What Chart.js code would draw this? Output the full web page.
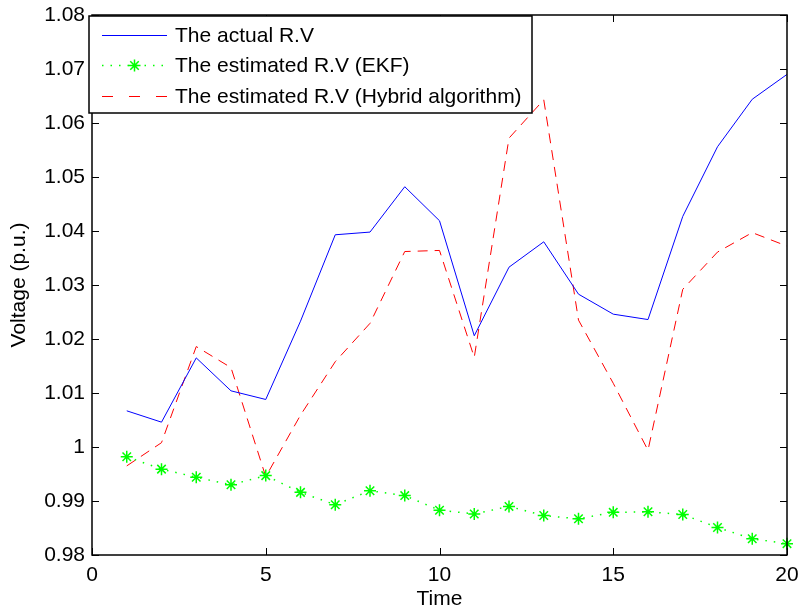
<!DOCTYPE html>
<html>
<head>
<meta charset="utf-8">
<script src="https://cdn.jsdelivr.net/npm/chart.js@4.4.1/dist/chart.umd.min.js"></script>
<style>
  html, body { margin: 0; padding: 0; background: #fff; }
  canvas { display: block; }
</style>
</head>
<body>
<canvas id="rvChart" width="801" height="612"></canvas>
<script>
// values
const time = [1, 2, 3, 4, 5, 6, 7, 8, 9, 10, 11, 12, 13, 14, 15, 16, 17, 18, 19, 20];
const actualRV = [1.0067, 1.0046, 1.0165, 1.0104, 1.0088, 1.0233, 1.0393, 1.0398, 1.0482, 1.0419,
                  1.0206, 1.0333, 1.0380, 1.0283, 1.0246, 1.0236, 1.0427, 1.0556, 1.0644, 1.0690];
const ekfRV = [0.9982, 0.9959, 0.9944, 0.9930, 0.9947, 0.9916, 0.9893, 0.9919, 0.9910, 0.9883,
               0.9876, 0.9890, 0.9873, 0.9867, 0.9879, 0.9880, 0.9875, 0.9851, 0.9830, 0.9821];
const hybridRV = [0.9965, 1.0008, 1.0186, 1.0147, 0.9945, 1.0059, 1.0158, 1.0229, 1.0362, 1.0364,
                  1.0166, 1.0572, 1.0643, 1.0235, 1.0118, 0.9994, 1.0292, 1.0361, 1.0397, 1.0372];
const seriesNames = ['The actual R.V', 'The estimated R.V (EKF)', 'The estimated R.V (Hybrid algorithm)'];
const xTicks = [0, 5, 10, 15, 20];
const yTicks = [0.98, 0.99, 1.00, 1.01, 1.02, 1.03, 1.04, 1.05, 1.06, 1.07, 1.08];

const FONT = '"Liberation Sans", Arial, Helvetica, sans-serif';
const toPoints = vals => vals.map((v, i) => ({ x: time[i], y: v }));

// matlab style box + inward ticks
const axesBox = {
    id: 'axesBox',
    afterDraw(chart) {
        const { ctx, chartArea: a, scales } = chart;
        const len = 7;
        ctx.save();
        ctx.strokeStyle = '#000';
        ctx.lineWidth = 1;
        ctx.beginPath();
        scales.x.ticks.forEach(t => {
            const px = Math.round(scales.x.getPixelForValue(t.value)) + 0.5;
            ctx.moveTo(px, a.bottom); ctx.lineTo(px, a.bottom - len);
            ctx.moveTo(px, a.top); ctx.lineTo(px, a.top + len);
        });
        scales.y.ticks.forEach(t => {
            const py = Math.round(scales.y.getPixelForValue(t.value)) + 0.5;
            ctx.moveTo(a.left, py); ctx.lineTo(a.left + len, py);
            ctx.moveTo(a.right, py); ctx.lineTo(a.right - len, py);
        });
        ctx.stroke();
        ctx.lineWidth = 1.5;
        ctx.strokeRect(Math.round(a.left), Math.round(a.top), Math.round(a.right - a.left), Math.round(a.bottom - a.top));
        ctx.restore();
    }
};

// legend box in the upper left corner of the axes
const boxLegend = {
    id: 'boxLegend',
    afterDraw(chart) {
        const { ctx, chartArea: a } = chart;
        const x0 = a.left - 3, y0 = a.top + 1, w = 443, h = 97;
        const rows = [35, 65, 96];
        ctx.save();
        ctx.fillStyle = '#fff';
        ctx.fillRect(x0, y0, w, h);
        ctx.strokeStyle = '#000';
        ctx.lineWidth = 1.5;
        ctx.strokeRect(x0, y0, w, h);
        chart.data.datasets.forEach((ds, i) => {
            const y = rows[i] + 0.5;
            ctx.beginPath();
            ctx.strokeStyle = ds.borderColor;
            ctx.lineWidth = ds.borderWidth;
            ctx.setLineDash(ds.legendDash || ds.borderDash || []);
            ctx.moveTo(102, y); ctx.lineTo(167, y);
            ctx.stroke();
            ctx.setLineDash([]);
            if (ds.pointRadius > 0) {
                ctx.lineWidth = ds.pointBorderWidth;
                Chart.helpers.drawPoint(ctx, { pointStyle: ds.pointStyle, radius: ds.pointRadius, borderWidth: ds.pointBorderWidth }, 134.5, y);
            }
            ctx.fillStyle = '#000';
            ctx.font = '21px ' + FONT;
            ctx.textBaseline = 'middle';
            ctx.textAlign = 'left';
            ctx.fillText(ds.label, 175, rows[i] + 1);
        });
        ctx.restore();
    }
};

new Chart(document.getElementById('rvChart'), {
    type: 'line',
    data: {
        datasets: [{
            label: seriesNames[0],
            data: toPoints(actualRV),
            borderColor: '#0000ff',
            borderWidth: 1,
            pointRadius: 0,
            tension: 0,
            clip: false
        }, {
            label: seriesNames[1],
            data: toPoints(ekfRV),
            borderColor: '#00ff00',
            borderWidth: 1.5,
            borderDash: [1.5, 7],
            pointStyle: 'star',
            pointRadius: 6,
            pointBorderColor: '#00ff00',
            pointBorderWidth: 1.5,
            tension: 0,
            clip: false
        }, {
            label: seriesNames[2],
            data: toPoints(hybridRV),
            borderColor: '#ff0000',
            borderWidth: 1,
            borderDash: [10, 7],
            legendDash: [11, 16],
            pointRadius: 0,
            tension: 0,
            clip: false
        }]
    },
    options: {
        responsive: false,
        animation: false,
        layout: { padding: { top: 15, right: 14, left: 0, bottom: 0 } },
        plugins: {
            legend: { display: false },
            tooltip: { enabled: false }
        },
        scales: {
            x: {
                type: 'linear',
                min: 0,
                max: 20,
                afterBuildTicks: s => { s.ticks = xTicks.map(v => ({ value: v })); },
                afterFit: s => { s.height = 57; s.paddingLeft = 0; s.paddingRight = 0; },
                grid: { display: false, drawTicks: false },
                border: { display: false },
                ticks: { color: '#000', font: { family: FONT, size: 21 }, padding: 8, maxRotation: 0 },
                title: { display: true, text: 'Time', color: '#000', font: { family: FONT, size: 21 }, padding: { top: 0, bottom: 0 } }
            },
            y: {
                min: 0.98,
                max: 1.08,
                afterBuildTicks: s => { s.ticks = yTicks.map(v => ({ value: v })); },
                afterFit: s => { s.width = 92; s.paddingTop = 0; s.paddingBottom = 0; },
                grid: { display: false, drawTicks: false },
                border: { display: false },
                ticks: {
                    color: '#000',
                    font: { family: FONT, size: 21 },
                    padding: 7,
                    callback: v => String(parseFloat(Number(v).toFixed(2)))
                },
                title: { display: true, text: 'Voltage (p.u.)', color: '#000', font: { family: FONT, size: 21 }, padding: { top: 7, bottom: 0 } }
            }
        }
    },
    plugins: [axesBox, boxLegend]
});
</script>
</body>
</html>
